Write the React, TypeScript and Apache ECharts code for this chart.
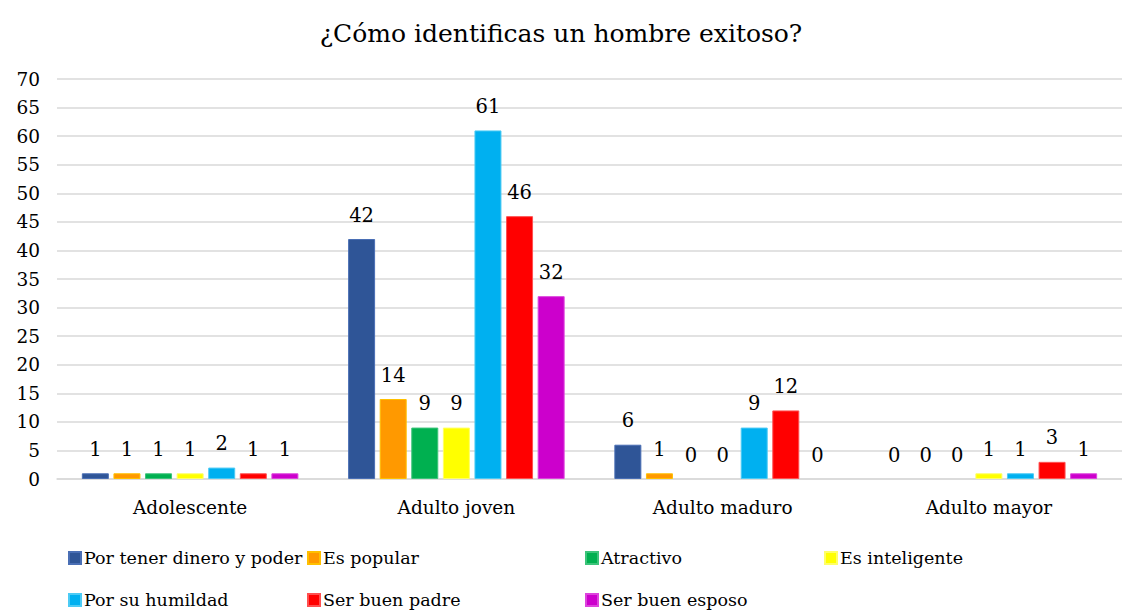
import React, { useEffect, useRef } from "react";
import * as echarts from "echarts";

const title = "¿Cómo identificas un hombre exitoso?";
const categories = ["Adolescente", "Adulto joven", "Adulto maduro", "Adulto mayor"];
const seriesNames = [
  "Por tener dinero y poder",
  "Es popular",
  "Atractivo",
  "Es inteligente",
  "Por su humildad",
  "Ser buen padre",
  "Ser buen esposo",
];
const dineroPoder = [1, 42, 6, 0];
const esPopular = [1, 14, 1, 0];
const atractivo = [1, 9, 0, 0];
const esInteligente = [1, 9, 0, 1];
const porSuHumildad = [2, 61, 9, 1];
const serBuenPadre = [1, 46, 12, 3];
const serBuenEsposo = [1, 32, 0, 1];
const seriesValues = [dineroPoder, esPopular, atractivo, esInteligente, porSuHumildad, serBuenPadre, serBuenEsposo];
const colors = ["#2F5597", "#FF9900", "#00B050", "#FFFF00", "#00B0F0", "#FF0000", "#CC00CC"];
const borderColors = ["#4A6FB5", "#FFC000", "#3CC47A", "#FFFF66", "#4CCBF5", "#FF5050", "#DD44DD"];
const legendPos = [
  [68, 0], [307, 0], [585, 0], [824, 0],
  [68, 1], [307, 1], [585, 1],
];

const FONT = "DejaVu Serif";

export default function App() {
  const ref = useRef<HTMLDivElement>(null);
  useEffect(() => {
    if (!ref.current) return;
    const chart = echarts.init(ref.current, null, { renderer: "svg" });
    chart.setOption({
      animation: false,
      backgroundColor: "#ffffff",
      textStyle: { fontFamily: FONT },
      title: {
        text: title,
        left: "center",
        top: 16,
        textStyle: { fontFamily: FONT, fontSize: 25, fontWeight: "normal", color: "#000" },
      },
      legend: seriesNames.map((n, i) => ({
        data: [n],
        left: legendPos[i][0],
        top: 549 + legendPos[i][1] * 42,
        itemWidth: 12,
        itemHeight: 12,
        icon: "rect",
        itemGap: 0,
        padding: 0,
        textStyle: { fontFamily: FONT, fontSize: 17.5, color: "#000", padding: [0, 0, 0, -2] },
      })),
      grid: { left: 57, right: -13, top: 79, bottom: 135, containLabel: false },
      xAxis: {
        type: "category",
        data: categories,
        axisLine: { lineStyle: { color: "#D9D9D9", width: 1.5 } },
        axisTick: { show: false },
        axisLabel: { fontFamily: FONT, fontSize: 18.5, color: "#000", margin: 19 },
      },
      yAxis: {
        type: "value",
        min: 0,
        max: 70,
        interval: 5,
        axisLine: { show: false },
        axisTick: { show: false },
        splitLine: { lineStyle: { color: "#D9D9D9", width: 1.5 } },
        axisLabel: { fontFamily: FONT, fontSize: 18.5, color: "#000", margin: 17 },
      },
      series: seriesNames.map((n, i) => ({
        name: n,
        type: "bar",
        data: seriesValues[i].map((v) =>
          v === 0 ? { value: v, itemStyle: { borderWidth: 0, borderColor: "transparent" } } : v
        ),
        barWidth: 27,
        barGap: "17%",
        itemStyle: { color: colors[i], borderColor: borderColors[i], borderWidth: 1 },
        label: {
          show: true,
          position: "top",
          distance: 14,
          fontFamily: FONT,
          fontSize: 19.5,
          color: "#000",
        },
      })),
    });
    return () => chart.dispose();
  }, []);
  return <div ref={ref} style={{ position: "fixed", left: 0, top: 0, width: 1122, height: 614 }} />;
}
